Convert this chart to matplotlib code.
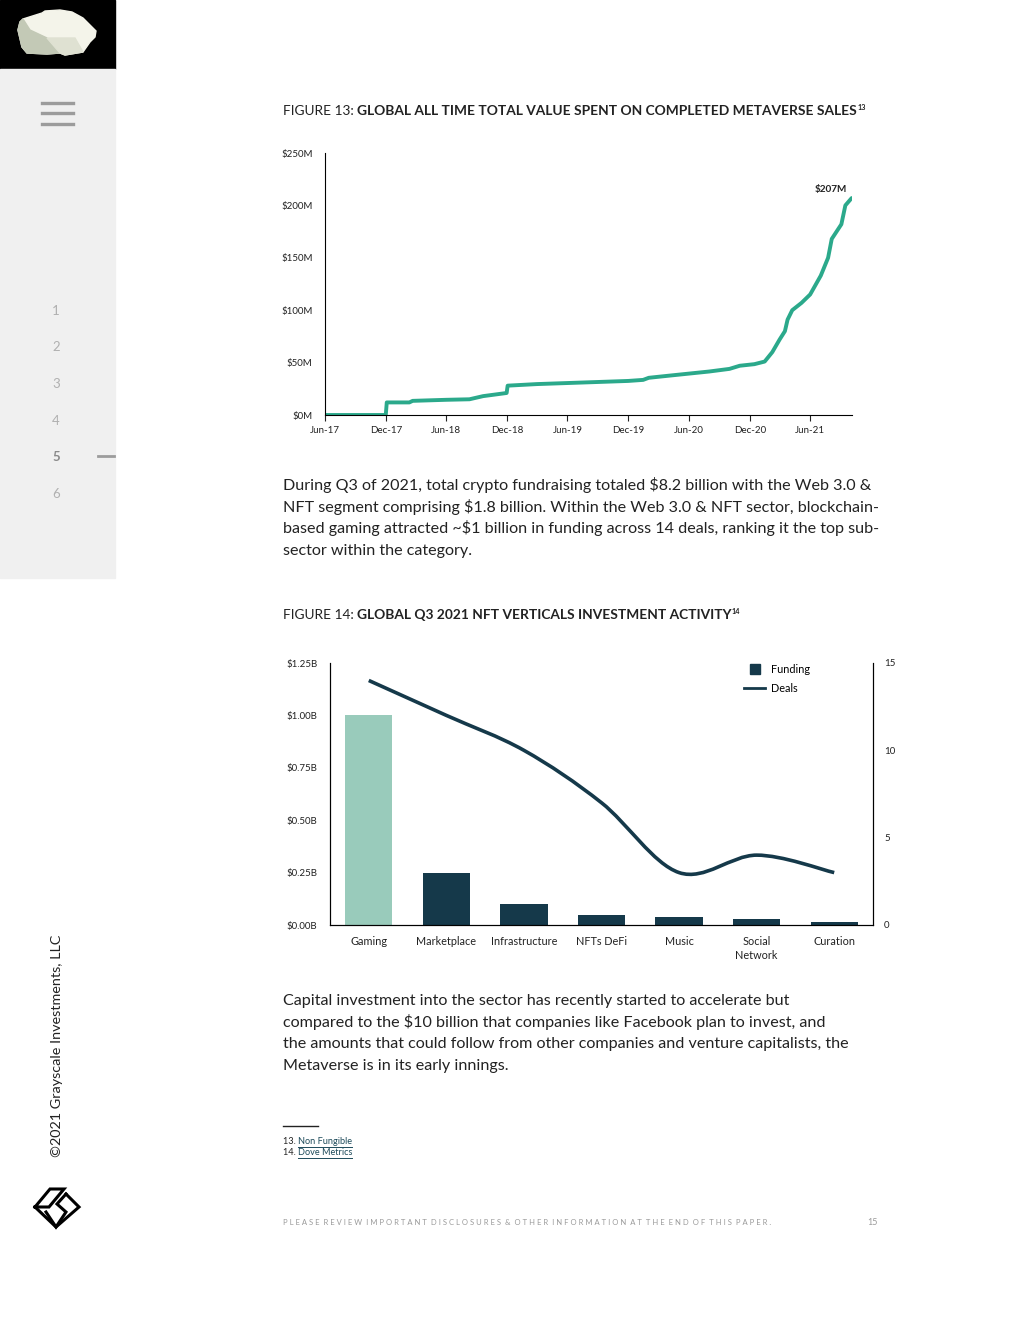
import numpy as np
import pandas as pd
import matplotlib
matplotlib.use("Agg")
import matplotlib.pyplot as plt
from matplotlib.path import Path
from matplotlib.patches import PathPatch, Rectangle, Polygon
from matplotlib.lines import Line2D

W, H = 1020, 1320
plt.rcParams['font.family'] = ['Lato', 'DejaVu Sans']

# --- figure 13: cumulative metaverse sales ($M) ---
sale_dates = ['2017-06-01', '2017-12-01', '2017-12-04', '2018-02-10', '2018-02-20',
              '2018-06-01', '2018-08-10', '2018-09-20', '2018-11-30', '2018-12-03',
              '2019-03-01', '2019-06-01', '2019-09-01', '2019-12-01', '2020-01-15',
              '2020-02-01', '2020-04-01', '2020-06-01', '2020-08-01', '2020-10-01',
              '2020-11-01', '2020-12-15', '2021-01-15', '2021-02-07', '2021-03-01',
              '2021-03-17', '2021-03-25', '2021-04-08', '2021-05-06', '2021-06-01',
              '2021-07-03', '2021-07-25', '2021-08-05', '2021-09-03', '2021-09-15',
              '2021-10-04']
sale_values = [0, 0, 12, 12, 13.5,
               14.5, 15, 18, 21, 28,
               29.5, 30.5, 31.5, 32.5, 33.5,
               35.5, 37.5, 39.5, 41.5, 44,
               47, 48.5, 51, 60, 72,
               80, 91, 100, 107, 115,
               133, 150, 168, 182, 200,
               207]
tick_dates = ['2017-06-01', '2017-12-01', '2018-06-01', '2018-12-01', '2019-06-01',
              '2019-12-01', '2020-06-01', '2020-12-01', '2021-06-01']
tick_names = ['Jun-17', 'Dec-17', 'Jun-18', 'Dec-18', 'Jun-19',
              'Dec-19', 'Jun-20', 'Dec-20', 'Jun-21']
sales_ticks = [0, 50, 100, 150, 200, 250]

# --- figure 14: Q3 2021 NFT verticals ---
verticals = ['Gaming', 'Marketplace', 'Infrastructure', 'NFTs DeFi', 'Music',
             'Social\nNetwork', 'Curation']
funding = [1.00, 0.25, 0.10, 0.05, 0.04, 0.03, 0.016]
deals = [14, 12, 10, 7, 3, 4, 3]
funding_ticks = [0, 0.25, 0.5, 0.75, 1.0, 1.25]
deal_ticks = [0, 5, 10, 15]

TEAL = '#2ba98b'
NAVY = '#15394a'
MINT = '#99cbbb'
INK = '#222222'


def box(l, t, r, b):
    return [l / W, 1 - b / H, (r - l) / W, (b - t) / H]


def fx(x):
    return x / W


def fy(y):
    return 1 - y / H


fig = plt.figure(figsize=(W / 100, H / 100), dpi=100)
renderer = fig.canvas.get_renderer()


def rich_line(x, y, parts):
    # parts: (text, weight, size, raise_px)
    for txt, weight, size, rise in parts:
        t = fig.text(fx(x), fy(y - rise), txt, fontsize=size, fontweight=weight,
                     color=INK, va='baseline', ha='left')
        x = t.get_window_extent(renderer).x1


# sidebar
fig.patches.append(Rectangle((0, fy(69)), fx(115), fy(0) - fy(69), transform=fig.transFigure,
                             color='black', zorder=0))
fig.patches.append(Rectangle((0, fy(578)), fx(115), fy(69) - fy(578), transform=fig.transFigure,
                             color='#f0f0f0', zorder=0))
rock = [(23, 19), (42, 13), (45, 11), (60, 10), (72, 12), (83, 18), (96, 31), (95, 37),
        (90, 42), (83, 52), (77, 53), (65, 55), (60, 53), (47, 54), (27, 53), (22, 47),
        (18, 30), (20, 22)]
fig.patches.append(Polygon([(fx(a), fy(b)) for a, b in rock], transform=fig.transFigure,
                           color='#f4f4ea', zorder=1))
shade = [(20, 22), (23, 19), (30, 30), (47, 38), (60, 53), (47, 54), (27, 53), (22, 47), (18, 30)]
fig.patches.append(Polygon([(fx(a), fy(b)) for a, b in shade], transform=fig.transFigure,
                           color='#c3c9b6', zorder=2))
shade2 = [(47, 38), (75, 38), (83, 52), (65, 55), (60, 53)]
fig.patches.append(Polygon([(fx(a), fy(b)) for a, b in shade2], transform=fig.transFigure,
                           color='#dfe1d2', zorder=2))
for yy in [103, 113, 124]:
    fig.lines.append(Line2D([fx(42), fx(73)], [fy(yy), fy(yy)], transform=fig.transFigure,
                            color='#9c9c9c', lw=2.4))
for i, yy in enumerate([311, 347, 384, 421, 457, 494]):
    active = i == 4
    fig.text(fx(56), fy(yy), str(i + 1), ha='center', va='center', fontsize=9.5,
             color='#8a8a8a' if active else '#b0b0b0',
             fontweight='bold' if active else 'normal')
fig.lines.append(Line2D([fx(98), fx(114)], [fy(456), fy(456)], transform=fig.transFigure,
                        color='#9c9c9c', lw=2))
fig.text(fx(57), fy(1046), '©2021 Grayscale Investments, LLC', rotation=90,
         ha='center', va='center', fontsize=10.4, color=INK)
logo = [[(35, 1207), (50, 1189), (64, 1189), (49, 1207), (35, 1207)],
        [(35, 1207), (56, 1227), (79, 1207), (66, 1194)],
        [(66, 1194), (57, 1204), (66, 1212), (56, 1227), (46, 1212)]]
for seg in logo:
    fig.lines.append(Line2D([fx(a) for a, b in seg], [fy(b) for a, b in seg],
                            transform=fig.transFigure, color='black', lw=2.2,
                            solid_joinstyle='miter'))

# titles
rich_line(283, 115, [('FIGURE 13: ', 'normal', 9.9, 0),
                     ('GLOBAL ALL TIME TOTAL VALUE SPENT ON COMPLETED METAVERSE SALES', 'bold', 9.9, 0),
                     ('13', 'bold', 5.2, 5)])
rich_line(283, 619, [('FIGURE 14: ', 'normal', 9.9, 0),
                     ('GLOBAL Q3 2021 NFT VERTICALS INVESTMENT ACTIVITY', 'bold', 9.9, 0),
                     ('14', 'bold', 5.2, 5)])

# figure 13
ax1 = fig.add_axes(box(325, 153, 852, 415))
d = pd.to_datetime(sale_dates)
ax1.plot(d, sale_values, color=TEAL, lw=2.8, solid_joinstyle='round', solid_capstyle='round')
ax1.set_xlim(pd.Timestamp('2017-06-01'), pd.Timestamp('2021-10-05'))
ax1.set_ylim(0, 250)
ax1.set_xticks(pd.to_datetime(tick_dates))
ax1.set_xticklabels(tick_names)
ax1.set_yticks(sales_ticks)
ax1.set_yticklabels([f'${v}M' for v in sales_ticks])
ax1.tick_params(axis='x', length=4, width=0.8, pad=4, labelsize=7, colors=INK)
ax1.tick_params(axis='y', length=0, pad=9, labelsize=7, colors=INK)
for s in ['top', 'right']:
    ax1.spines[s].set_visible(False)
for s in ['left', 'bottom']:
    ax1.spines[s].set_linewidth(0.8)
ax1.annotate(f'${sale_values[-1]}M', xy=(d[-1], sale_values[-1]), xytext=(-15, 6),
             textcoords='offset points', ha='center', va='center', fontsize=7.2,
             fontweight='bold', color=INK)

# paragraph 1
para1 = ['During Q3 of 2021, total crypto fundraising totaled $8.2 billion with the Web 3.0 &',
         'NFT segment comprising $1.8 billion. Within the Web 3.0 & NFT sector, blockchain-',
         'based gaming attracted ~$1 billion in funding across 14 deals, ranking it the top sub-',
         'sector within the category.']
for i, line in enumerate(para1):
    fig.text(fx(283), fy(490 + i * 21.7), line, fontsize=11.6, color=INK, va='baseline')

# figure 14
ax2 = fig.add_axes(box(330, 663, 873, 925))
xs = np.arange(len(verticals))
ax2.bar(xs, funding, width=0.61, color=[MINT] + [NAVY] * (len(verticals) - 1), zorder=2)
ax2.set_xlim(-0.5, len(verticals) - 0.5)
ax2.set_ylim(0, 1.25)
ax2.set_yticks(funding_ticks)
ax2.set_yticklabels([f'${v:.2f}B' for v in funding_ticks])
ax2.set_xticks(xs)
ax2.set_xticklabels(verticals, linespacing=1.35)
ax2.tick_params(axis='x', length=0, pad=8, labelsize=7.8, colors=INK)
ax2.tick_params(axis='y', length=0, pad=9, labelsize=7, colors=INK)
ax2.spines['top'].set_visible(False)
ax3 = ax2.twinx()
ax3.set_ylim(0, 15)
ax3.set_yticks(deal_ticks)
ax3.tick_params(axis='y', length=0, pad=8, labelsize=7, colors=INK)
ax3.spines['top'].set_visible(False)
for a in (ax2, ax3):
    for s in ['left', 'right', 'bottom']:
        a.spines[s].set_linewidth(0.8)

# smoothed deals line (Catmull-Rom as cubic Bezier)
pts = np.column_stack([xs, deals]).astype(float)
ext = np.vstack([pts[0], pts, pts[-1]])
verts = [tuple(pts[0])]
codes = [Path.MOVETO]
for i in range(len(pts) - 1):
    p0, p1, p2, p3 = ext[i], ext[i + 1], ext[i + 2], ext[i + 3]
    verts += [tuple(p1 + (p2 - p0) / 6), tuple(p2 - (p3 - p1) / 6), tuple(p2)]
    codes += [Path.CURVE4] * 3
ax3.add_patch(PathPatch(Path(verts, codes), fill=False, edgecolor=NAVY, lw=2.6,
                        capstyle='butt', zorder=3))

handles = [Line2D([], [], marker='s', ls='none', color=NAVY, markersize=7.5),
           Line2D([], [], color=NAVY, lw=2)]
ax3.legend(handles, ['Funding', 'Deals'], loc='upper left', bbox_to_anchor=(0.745, 1.035),
           frameon=False, fontsize=7.8, handlelength=1.9, handletextpad=0.6,
           labelspacing=0.75)

# paragraph 2
para2 = ['Capital investment into the sector has recently started to accelerate but',
         'compared to the $10 billion that companies like Facebook plan to invest, and',
         'the amounts that could follow from other companies and venture capitalists, the',
         'Metaverse is in its early innings.']
for i, line in enumerate(para2):
    fig.text(fx(283), fy(1005 + i * 21.7), line, fontsize=11.6, color=INK, va='baseline')

# footnotes
fig.lines.append(Line2D([fx(283), fx(318)], [fy(1126), fy(1126)], transform=fig.transFigure,
                        color=INK, lw=1))
for yy, num, src in [(1144, '13. ', 'Non Fungible'), (1155, '14. ', 'Dove Metrics')]:
    t = fig.text(fx(283), fy(yy), num, fontsize=6.6, color=INK, va='baseline')
    x0 = t.get_window_extent(renderer).x1
    t2 = fig.text(x0 / W, fy(yy), src, fontsize=6.6, color='#1d4a5a', va='baseline')
    x1 = t2.get_window_extent(renderer).x1
    fig.lines.append(Line2D([x0 / W, x1 / W], [fy(yy + 2.5), fy(yy + 2.5)],
                            transform=fig.transFigure, color='#1d4a5a', lw=0.7))

fig.text(fx(283), fy(1225), 'P L E A S E  R E V I E W  I M P O R T A N T  D I S C L O S U R E S  &  '
         'O T H E R  I N F O R M A T I O N  A T  T H E  E N D  O F  T H I S  P A P E R .',
         fontsize=5.5, color='#9a9a9a', va='baseline')
fig.text(fx(872), fy(1225), '15', fontsize=6.4, color='#9a9a9a', va='baseline', ha='center')

fig.savefig('out.png', dpi=100, facecolor='white')
